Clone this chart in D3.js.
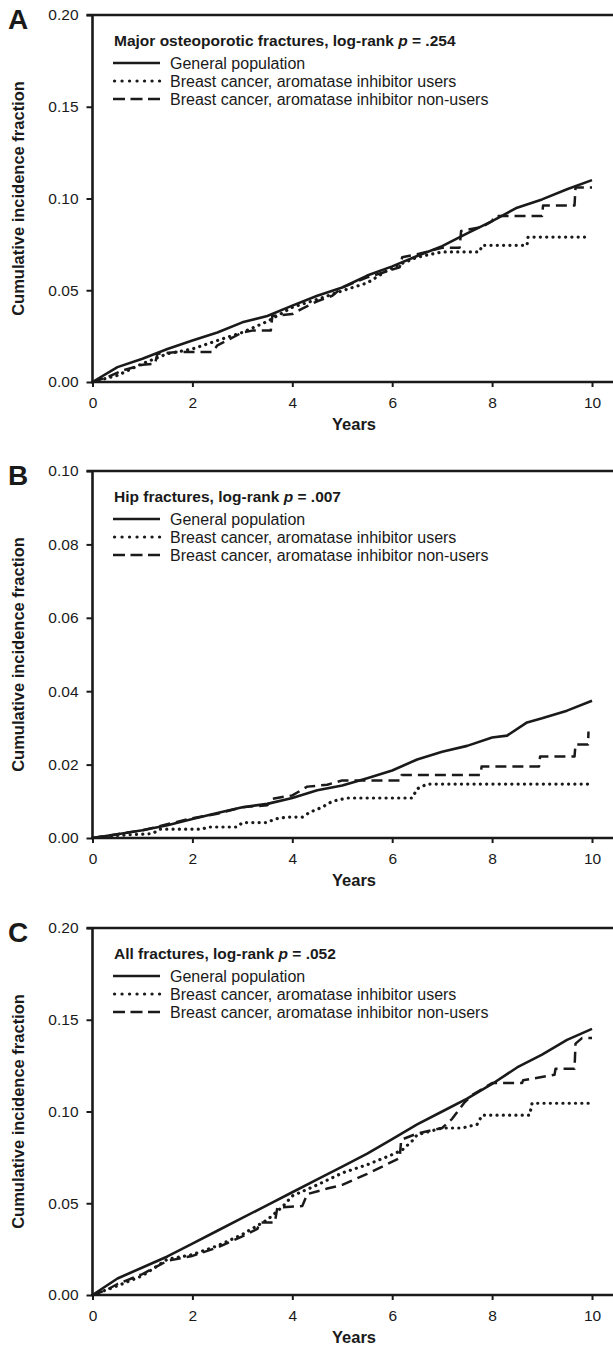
<!DOCTYPE html>
<html>
<head>
<meta charset="utf-8">
<script src="https://cdn.jsdelivr.net/npm/d3@7"></script>
<style>
  body { margin: 0; background: #fff; }
  svg { display: block; font-family: "Liberation Sans", Arial, Helvetica, sans-serif; }
</style>
</head>
<body>
<div id="wrapper"></div>
<script>

// shared
const yearTicks = [0, 2, 4, 6, 8, 10]
const seriesNames = [
  "General population",
  "Breast cancer, aromatase inhibitor users",
  "Breast cancer, aromatase inhibitor non-users",
]

// A. major osteoporotic fractures
const majorTicks = [0, 0.05, 0.10, 0.15, 0.20]
const majorGeneral = [[0, 0], [0.5, 0.0081], [1, 0.0127], [1.5, 0.018], [2, 0.0226], [2.5, 0.027], [3, 0.0325],
  [3.5, 0.036], [4, 0.0416], [4.5, 0.047], [5, 0.0515], [5.5, 0.058], [6, 0.063], [6.5, 0.0687], [7, 0.074],
  [7.5, 0.081], [8, 0.0877], [8.5, 0.095], [9, 0.0995], [9.5, 0.105], [10, 0.110]]
const majorUsers = [[0, 0], [0.5, 0.0036], [1, 0.010], [1.5, 0.0154], [2, 0.018], [2.5, 0.0226], [3, 0.027],
  [3.5, 0.033], [4, 0.0407], [4.5, 0.045], [5, 0.0497], [5.5, 0.054], [6, 0.0624], [6.5, 0.068], [7, 0.0709],
  [7.75, 0.0709], [7.8, 0.0745], [8.7, 0.0745], [8.72, 0.079], [9.95, 0.079]]
const majorNonUsers = [[0, 0], [0.3, 0.0027], [0.6, 0.0063], [1, 0.0094], [1.25, 0.0099], [1.3, 0.0154],
  [1.7, 0.0163], [2.4, 0.0163], [2.5, 0.020], [3, 0.027], [3.2, 0.028], [3.57, 0.028], [3.6, 0.036], [4, 0.037],
  [4.2, 0.040], [4.5, 0.044], [4.8, 0.047], [5, 0.0515], [5.5, 0.057], [6.15, 0.0625], [6.2, 0.068],
  [6.5, 0.0696], [7, 0.0732], [7.35, 0.0732], [7.38, 0.0823], [7.8, 0.0845], [8, 0.0877], [8.05, 0.0904],
  [9.0, 0.0904], [9.02, 0.0962], [9.65, 0.0962], [9.67, 0.106], [10, 0.106]]

// B. hip fractures
const hipTicks = [0, 0.02, 0.04, 0.06, 0.08, 0.10]
const hipGeneral = [[0, 0], [0.5, 0.001], [1, 0.0021], [1.5, 0.0035], [2, 0.0052], [2.5, 0.0068], [3, 0.0084],
  [3.5, 0.0093], [4, 0.0109], [4.5, 0.013], [5, 0.0143], [5.5, 0.0163], [6, 0.0184], [6.5, 0.0214],
  [7, 0.0235], [7.5, 0.0251], [8, 0.0274], [8.3, 0.0279], [8.7, 0.0315], [9, 0.0326], [9.5, 0.0347],
  [10, 0.0374]]
const hipUsers = [[0, 0], [0.5, 0.0007], [1.2, 0.0012], [1.35, 0.0024], [2.2, 0.0024], [2.3, 0.003],
  [2.9, 0.003], [3.0, 0.0042], [3.5, 0.0042], [3.65, 0.0052], [3.9, 0.0057], [4.2, 0.0057], [4.35, 0.007],
  [4.6, 0.0084], [4.8, 0.010], [5.1, 0.0109], [6.4, 0.0109], [6.5, 0.0134], [6.7, 0.0147], [10, 0.0147]]
const hipNonUsers = [[0, 0], [1, 0.0021], [2, 0.0054], [2.5, 0.0066], [3, 0.0084], [3.5, 0.0089],
  [3.6, 0.0107], [4, 0.0116], [4.3, 0.014], [4.7, 0.0145], [5.0, 0.0157], [6.17, 0.0157], [6.19, 0.0172],
  [7.77, 0.0172], [7.79, 0.0195], [8.94, 0.0195], [8.96, 0.0222], [9.65, 0.0222], [9.67, 0.0255],
  [9.92, 0.0255], [9.93, 0.029]]

// C. all fractures
const allTicks = [0, 0.05, 0.10, 0.15, 0.20]
const allGeneral = [[0, 0], [0.5, 0.009], [1, 0.015], [1.5, 0.021], [2, 0.028], [2.5, 0.035], [3, 0.042],
  [3.5, 0.049], [4, 0.056], [4.5, 0.063], [5, 0.070], [5.5, 0.077], [6, 0.085], [6.5, 0.093], [7, 0.100],
  [7.5, 0.107], [8, 0.115], [8.5, 0.124], [9, 0.131], [9.5, 0.139], [10, 0.145]]
const allUsers = [[0, 0], [0.5, 0.005], [1, 0.0105], [1.5, 0.0195], [2, 0.022], [2.5, 0.0268], [3, 0.033],
  [3.5, 0.041], [3.8, 0.048], [4, 0.054], [4.5, 0.060], [5, 0.0665], [5.5, 0.071], [6, 0.0765], [6.2, 0.079],
  [6.4, 0.084], [6.5, 0.0873], [7, 0.091], [7.4, 0.091], [7.7, 0.093], [7.8, 0.098], [8.75, 0.098],
  [8.8, 0.1045], [9.95, 0.1045]]
const allNonUsers = [[0, 0], [0.3, 0.003], [0.5, 0.006], [1, 0.0114], [1.5, 0.0186], [2, 0.0213], [2.5, 0.0259],
  [3, 0.032], [3.3, 0.036], [3.35, 0.0395], [3.65, 0.0395], [3.7, 0.0476], [4.2, 0.0485], [4.3, 0.055],
  [4.7, 0.058], [5, 0.060], [5.5, 0.066], [6.15, 0.0746], [6.18, 0.0846], [6.5, 0.088], [7, 0.091],
  [7.2, 0.096], [7.45, 0.105], [7.6, 0.109], [8, 0.1155], [8.6, 0.1155], [8.62, 0.117], [9.25, 0.120],
  [9.27, 0.1233], [9.65, 0.1233], [9.67, 0.137], [9.8, 0.140], [10, 0.140]]

const panels = [
  { letter: "A", title: "Major osteoporotic fractures, log-rank ", p: ".254", ticks: majorTicks,
    series: [majorGeneral, majorUsers, majorNonUsers] },
  { letter: "B", title: "Hip fractures, log-rank ", p: ".007", ticks: hipTicks,
    series: [hipGeneral, hipUsers, hipNonUsers] },
  { letter: "C", title: "All fractures, log-rank ", p: ".052", ticks: allTicks,
    series: [allGeneral, allUsers, allNonUsers] },
]

const dims = {
  width: 613,
  height: 1346,
  left: 92.5,
  right: 592,
  lineEnd: 613,
  plotHeight: 367,
  tops: [15, 471, 928],
}

const ink = "#1a1a1a"
const lineStyles = [
  { dash: null, width: 2.6, cap: "butt" },
  { dash: "0.1,6.2", width: 3.2, cap: "round" },
  { dash: "11,6", width: 2.5, cap: "butt" },
]

const svg = d3.select("#wrapper")
  .append("svg")
    .attr("width", dims.width)
    .attr("height", dims.height)

function drawPanel(panel, top) {
  const yMax = d3.max(panel.ticks)

  const xScale = d3.scaleLinear()
    .domain([0, 10])
    .range([dims.left, dims.right])

  const yScale = d3.scaleLinear()
    .domain([0, yMax])
    .range([top + dims.plotHeight, top])

  const g = svg.append("g")

  // frame: top, bottom and left lines (figure is cropped at the right)
  g.append("line")
    .attr("x1", dims.left - 6).attr("x2", dims.lineEnd)
    .attr("y1", yScale(yMax)).attr("y2", yScale(yMax))
  g.append("line")
    .attr("x1", dims.left).attr("x2", dims.lineEnd)
    .attr("y1", yScale(0)).attr("y2", yScale(0))
  g.append("line")
    .attr("x1", dims.left).attr("x2", dims.left)
    .attr("y1", yScale(yMax)).attr("y2", yScale(0))
  g.selectAll("line")
    .attr("stroke", ink)
    .attr("stroke-width", 2.6)

  const yAxis = g.append("g")
    .attr("transform", `translate(${dims.left},0)`)
    .call(d3.axisLeft(yScale)
      .tickValues(panel.ticks)
      .tickFormat(d3.format(".2f"))
      .tickSize(6)
      .tickPadding(8))
  yAxis.select(".domain").remove()

  const xAxis = g.append("g")
    .attr("transform", `translate(0,${yScale(0)})`)
    .call(d3.axisBottom(xScale)
      .tickValues(yearTicks)
      .tickFormat(d => d)
      .tickSize(5)
      .tickPadding(10))
  xAxis.select(".domain").remove()

  g.selectAll(".tick line")
    .attr("stroke", ink)
    .attr("stroke-width", 2)
  g.selectAll(".tick text")
    .attr("fill", ink)
    .style("font-size", "15.5px")

  // axis titles
  g.append("text")
    .attr("x", 354)
    .attr("y", yScale(0) + 48)
    .attr("text-anchor", "middle")
    .attr("fill", ink)
    .style("font-size", "16.5px")
    .style("font-weight", "bold")
    .text("Years")

  g.append("text")
    .attr("transform", `translate(23.5,${(yScale(0) + yScale(yMax)) / 2}) rotate(-90)`)
    .attr("text-anchor", "middle")
    .attr("fill", ink)
    .style("font-size", "16.5px")
    .style("font-weight", "bold")
    .text("Cumulative incidence fraction")

  // panel letter
  g.append("text")
    .attr("x", 8)
    .attr("y", top + 14)
    .attr("fill", ink)
    .style("font-size", "28px")
    .style("font-weight", "bold")
    .text(panel.letter)

  // curves
  const lineGenerator = d3.line()
    .x(d => xScale(d[0]))
    .y(d => yScale(d[1]))

  panel.series.forEach((s, i) => {
    g.append("path")
      .attr("d", lineGenerator(s))
      .attr("fill", "none")
      .attr("stroke", ink)
      .attr("stroke-width", lineStyles[i].width)
      .attr("stroke-linecap", lineStyles[i].cap)
      .attr("stroke-linejoin", "round")
      .attr("stroke-dasharray", lineStyles[i].dash)
  })

  // legend
  const legend = g.append("g")
    .attr("transform", `translate(113,${top})`)

  const title = legend.append("text")
    .attr("x", 1)
    .attr("y", 30.5)
    .attr("fill", ink)
    .style("font-size", "15.5px")
    .style("font-weight", "bold")
  title.append("tspan").text(panel.title)
  title.append("tspan").style("font-style", "italic").text("p")
  title.append("tspan").text(" = " + panel.p)

  seriesNames.forEach((name, i) => {
    const cy = 48 + i * 18
    legend.append("line")
      .attr("x1", i == 1 ? 1.5 : 0).attr("x2", 47)
      .attr("y1", cy).attr("y2", cy)
      .attr("stroke", ink)
      .attr("stroke-width", lineStyles[i].width)
      .attr("stroke-linecap", lineStyles[i].cap)
      .attr("stroke-dasharray", lineStyles[i].dash == null ? null : (i == 1 ? "0.1,7.4" : "12,5.5"))
    legend.append("text")
      .attr("x", 57)
      .attr("y", cy + 5.5)
      .attr("fill", ink)
      .style("font-size", "16px")
      .text(name)
  })
}

panels.forEach((p, i) => drawPanel(p, dims.tops[i]))

</script>
</body>
</html>
